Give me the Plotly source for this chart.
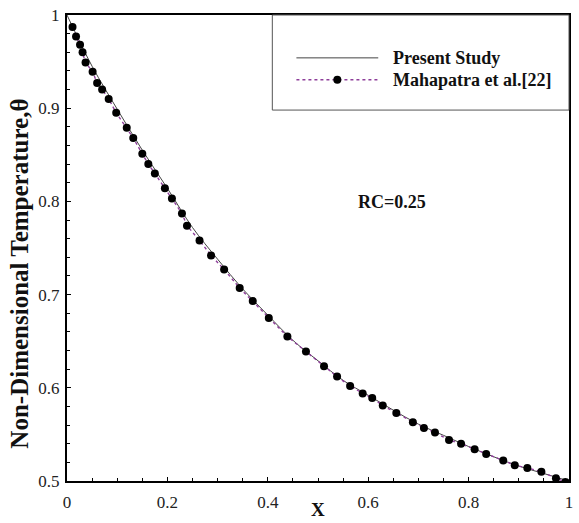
import plotly.graph_objects as go

# ---- data ----
present_x = [0.0, 0.05, 0.1, 0.15, 0.2, 0.25, 0.3, 0.35, 0.4, 0.45, 0.5,
             0.55, 0.6, 0.65, 0.7, 0.75, 0.8, 0.85, 0.9, 0.95, 1.0]
present_y = [1.0, 0.945, 0.899, 0.855, 0.814, 0.772, 0.738, 0.706, 0.678, 0.651, 0.629,
             0.608, 0.592, 0.576, 0.561, 0.549, 0.537, 0.526, 0.516, 0.508, 0.500]

maha_x = [0.011, 0.018, 0.026, 0.031, 0.037, 0.051, 0.060, 0.070, 0.083, 0.098,
          0.119, 0.132, 0.150, 0.162, 0.175, 0.195, 0.209, 0.229, 0.239, 0.264,
          0.287, 0.313, 0.344, 0.370, 0.402, 0.439, 0.476, 0.512, 0.538, 0.564,
          0.589, 0.608, 0.629, 0.656, 0.689, 0.711, 0.733, 0.761, 0.785, 0.812,
          0.835, 0.869, 0.892, 0.917, 0.945, 0.974, 0.993]
maha_y = [0.987, 0.977, 0.968, 0.960, 0.949, 0.939, 0.927, 0.920, 0.910, 0.895,
          0.879, 0.868, 0.851, 0.840, 0.830, 0.814, 0.803, 0.787, 0.774, 0.758,
          0.742, 0.727, 0.707, 0.693, 0.675, 0.655, 0.639, 0.623, 0.612, 0.602,
          0.594, 0.589, 0.581, 0.573, 0.563, 0.557, 0.552, 0.544, 0.540, 0.534,
          0.529, 0.522, 0.517, 0.514, 0.510, 0.503, 0.499]

series_names = ["Present Study", "Mahapatra et al.[22]"]
x_ticks = [0, 0.2, 0.4, 0.6, 0.8, 1.0]
x_tick_labels = ["0", "0.2", "0.4", "0.6", "0.8", "1"]
y_ticks = [0.5, 0.6, 0.7, 0.8, 0.9, 1.0]
y_tick_labels = ["0.5", "0.6", "0.7", "0.8", "0.9", "1"]
annotation_text = "RC=0.25"

FONT = "Liberation Serif"
PURPLE = "#8e3e9a"

fig = go.Figure()
fig.add_trace(go.Scatter(x=present_x, y=present_y, mode="lines", name=series_names[0],
                         line=dict(color="#444444", width=1, shape="spline"),
                         showlegend=False))
fig.add_trace(go.Scatter(x=maha_x, y=maha_y, mode="lines+markers", name=series_names[1],
                         line=dict(color=PURPLE, width=1.4, dash="dot"),
                         marker=dict(color="black", size=8, symbol="circle"),
                         showlegend=False))

axis_common = dict(showline=True, linecolor="black", linewidth=2, mirror=True,
                   ticks="inside", tickcolor="black", showgrid=False, zeroline=False,
                   tickfont=dict(family=FONT, size=17, color="#222222"))

fig.update_xaxes(range=[0, 1], tickvals=x_ticks, ticktext=x_tick_labels, ticklen=4,
                 minor=dict(dtick=0.05, ticks="inside", ticklen=3, tickcolor="black"),
                 ticklabelstandoff=5,
                 **axis_common)
fig.update_yaxes(range=[0.5, 1], tickvals=y_ticks, ticktext=y_tick_labels, ticklen=4,
                 minor=dict(dtick=0.02, ticks="inside", ticklen=3, tickcolor="black"),
                 ticklabelstandoff=2,
                 **axis_common)

# axis titles as annotations (positioned like the reference)
fig.add_annotation(x=-0.0945, y=0.444, xref="paper", yref="paper",
                   text="<b>Non-Dimensional Temperature,θ</b>", textangle=-90,
                   showarrow=False, xanchor="center", yanchor="middle",
                   font=dict(family=FONT, size=25, color="#111111"))
fig.add_annotation(x=0.5, y=-0.088, xref="paper", yref="paper",
                   text="<b>X</b>", showarrow=False, xanchor="center", yanchor="bottom",
                   font=dict(family=FONT, size=19, color="#111111"))

fig.add_annotation(x=0.648, y=0.599, xref="paper", yref="paper",
                   text="<b>" + annotation_text + "</b>", showarrow=False,
                   xanchor="center", yanchor="middle",
                   font=dict(family=FONT, size=18, color="#111111"))

# legend box
fig.add_shape(type="rect", xref="paper", yref="paper", x0=0.409, x1=1.0, y0=0.796, y1=1.0,
              line=dict(color="#555555", width=1), fillcolor="rgba(0,0,0,0)")
# legend entries
leg_y = [0.908, 0.861]
fig.add_shape(type="line", xref="paper", yref="paper", x0=0.457, x1=0.620,
              y0=leg_y[0], y1=leg_y[0], line=dict(color="#444444", width=1))
fig.add_shape(type="line", xref="paper", yref="paper", x0=0.457, x1=0.620,
              y0=leg_y[1], y1=leg_y[1], line=dict(color=PURPLE, width=1.4, dash="dot"))
fig.add_shape(type="circle", xref="paper", yref="paper", xsizemode="pixel", ysizemode="pixel",
              xanchor=0.5385, yanchor=leg_y[1], x0=-4, x1=4, y0=-4, y1=4,
              fillcolor="black", line=dict(color="black", width=0))
for name, yy in zip(series_names, leg_y):
    fig.add_annotation(x=0.646, y=yy, xref="paper", yref="paper", text="<b>" + name + "</b>",
                       showarrow=False, xanchor="left", yanchor="middle",
                       font=dict(family=FONT, size=18, color="#111111"))

fig.update_layout(width=579, height=523, margin=dict(l=67, r=6, t=15, b=42),
                  plot_bgcolor="white", paper_bgcolor="white", showlegend=False)

fig.write_html("out.html", config={"displayModeBar": False},
               post_script="document.body.style.margin='0';document.body.style.padding='0';")
